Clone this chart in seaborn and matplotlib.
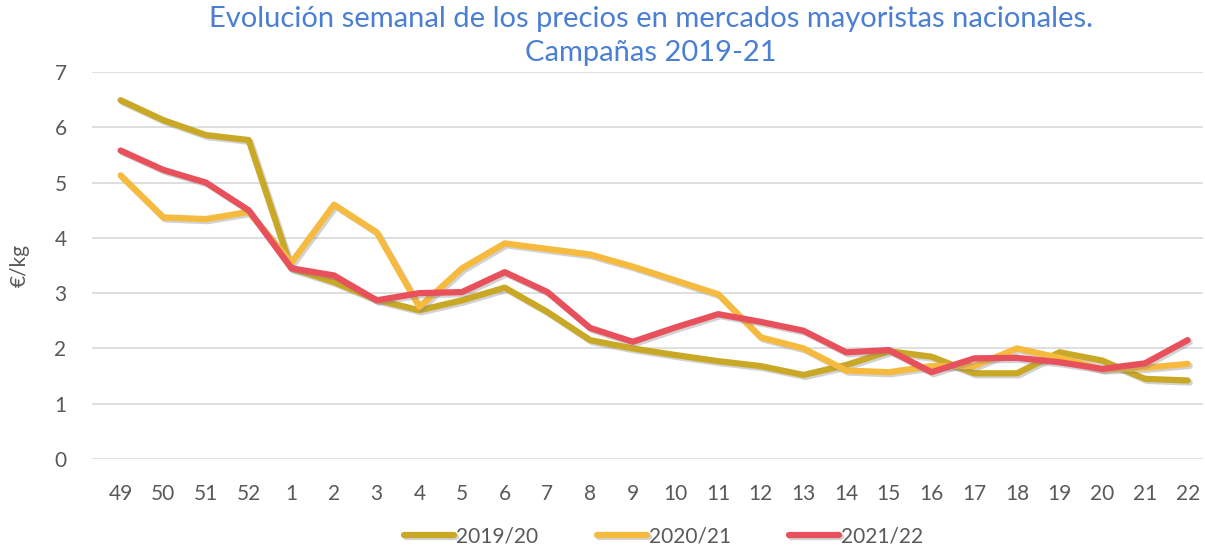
import matplotlib
matplotlib.use("Agg")
import matplotlib.pyplot as plt
import matplotlib.patheffects as pe
import seaborn as sns
import pandas as pd

# weekly prices (€/kg), weeks 49 of one year to 22 of the next
weeks = ["49", "50", "51", "52"] + [str(w) for w in range(1, 23)]

s_2019 = [6.49, 6.13, 5.86, 5.77, 3.45, 3.2, 2.88, 2.69, 2.87, 3.1,
          2.66, 2.15, 2.0, 1.88, 1.77, 1.68, 1.52, 1.7, 1.95, 1.85,
          1.55, 1.55, 1.93, 1.78, 1.45, 1.42]
s_2020 = [5.13, 4.37, 4.34, 4.47, 3.55, 4.6, 4.1, 2.75, 3.45, 3.9,
          3.8, 3.7, 3.48, 3.23, 2.98, 2.2, 2.0, 1.6, 1.57, 1.68,
          1.68, 2.0, 1.83, 1.62, 1.65, 1.72]
s_2021 = [5.58, 5.23, 5.0, 4.5, 3.45, 3.32, 2.87, 3.0, 3.02, 3.38,
          3.02, 2.37, 2.12, 2.38, 2.62, 2.48, 2.32, 1.93, 1.97, 1.57,
          1.82, 1.83, 1.75, 1.63, 1.73, 2.15]

seasons = ["2019/20", "2020/21", "2021/22"]
colors = ["#C9A825", "#F6BA3E", "#E8515C"]

rows = []
for name, vals in zip(seasons, [s_2019, s_2020, s_2021]):
    for i, v in enumerate(vals):
        rows.append({"pos": i, "week": weeks[i], "price": v, "season": name})
df = pd.DataFrame(rows)

sns.set_style("white")
plt.rcParams['font.family'] = ['Lato', 'DejaVu Sans']

fig = plt.figure(figsize=(12.05, 5.5), dpi=100)
ax = fig.add_axes([0.076, 0.1655, 0.922, 0.7035])

sns.lineplot(data=df, x="pos", y="price", hue="season", palette=colors,
             linewidth=4.5, ax=ax, legend=True)

shadow = [pe.SimpleLineShadow(offset=(1.5, -1.5), shadow_color="gray", alpha=0.35),
          pe.Normal()]
for line in ax.get_lines():
    line.set_path_effects(shadow)
    line.set_solid_capstyle("round")

ax.set_xlim(-0.68, 25.35)
ax.set_ylim(0, 7)
ax.set_xticks(range(len(weeks)))
ax.set_xticklabels(weeks)
ax.set_yticks(range(0, 8))
ax.yaxis.grid(True, color="#D9D9D9", linewidth=1.2)
for s in ax.spines.values():
    s.set_visible(False)
ax.tick_params(axis="both", length=0, labelsize=15, colors="#595959", pad=18)
ax.tick_params(axis="y", pad=18)
ax.set_xlabel("")
ax.set_ylabel("€/kg", fontsize=15, color="#595959", labelpad=18)

fig.suptitle("Evolución semanal de los precios en mercados mayoristas nacionales.\nCampañas 2019-21",
             x=0.54, y=0.99, fontsize=21, color="#4A7FD4", linespacing=1.4)

ax.legend(loc="upper center", bbox_to_anchor=(0.515, -0.125), ncol=3, frameon=False,
          fontsize=15, labelcolor="#595959", handlelength=2.4, handletextpad=0.1,
          columnspacing=2.8)

fig.savefig("out.png", dpi=100)
